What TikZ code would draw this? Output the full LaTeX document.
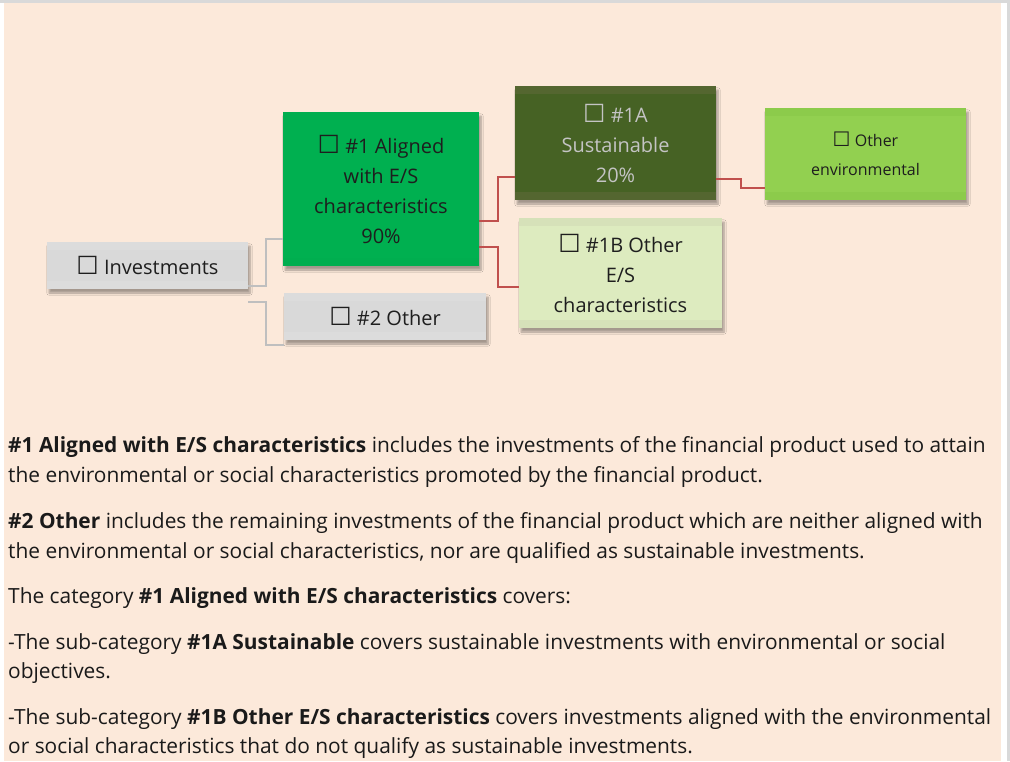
\documentclass[tikz,border=0pt]{standalone}
\usepackage{fontspec}
\setmainfont{Open Sans}
\newfontfamily\symf{DejaVu Sans}
\usetikzlibrary{shadows.blur}
\definecolor{peach}{HTML}{FCE9DA}
\definecolor{frame}{HTML}{D9D9D9}
\definecolor{greybox}{HTML}{D9D9D9}
\definecolor{greyband}{HTML}{DCDCDC}
\definecolor{green1}{HTML}{00B050}
\definecolor{green1band}{HTML}{00AE4F}
\definecolor{dark1a}{HTML}{466224}
\definecolor{dark1aband}{HTML}{546630}
\definecolor{light1b}{HTML}{DDEBBF}
\definecolor{light1bband}{HTML}{D6E1B9}
\definecolor{envgreen}{HTML}{92D050}
\definecolor{envband}{HTML}{8CCB4B}
\definecolor{greyline}{HTML}{BFBFBF}
\definecolor{redline}{HTML}{C0504D}
\definecolor{boxtxt}{HTML}{1E1E1E}
\definecolor{lighttxt}{HTML}{C4C4C4}
\definecolor{bodytxt}{HTML}{1A1A1A}
\newcommand\chkbox{{\symf\scalebox{1.25}{☐}}}
\tikzset{
  box/.style={rectangle, inner sep=0pt, align=center, text=boxtxt,
    font=\fontsize{20}{30}\selectfont,
    blur shadow={shadow xshift=2pt, shadow yshift=-4pt, shadow blur steps=6, shadow opacity=35}},
  banded/.style={path picture={
    \fill[#1] (path picture bounding box.north west) rectangle ([yshift=-8pt]path picture bounding box.north east);
    \fill[#1] (path picture bounding box.south west) rectangle ([yshift=8pt]path picture bounding box.south east);}},
  gline/.style={draw=greyline, line width=2pt},
  rline/.style={draw=redline, line width=2pt},
  bodytext/.style={anchor=base west, inner sep=0pt, text=bodytxt, font=\fontsize{20.9}{24}\selectfont},
}
\begin{document}
\begin{tikzpicture}[x=1pt, y=-1pt]
\useasboundingbox (0,0) rectangle (1010,761);
\fill[white] (0,0) rectangle (1010,761);
\fill[peach] (4,3) rectangle (1001,761);
\fill[frame] (0,0) rectangle (1008,3);
\fill[frame] (1007,0) rectangle (1010,761);

% boxes
\node[box, fill=greybox, banded=greyband, minimum width=201pt, minimum height=47pt] (inv) at (147.5,265.5) {\chkbox\ Investments};
\node[box, fill=green1, banded=green1band, minimum width=196pt, minimum height=154pt] (a1) at (381,189) {\chkbox\ \#1 Aligned\\with E/S\\characteristics\\90\%};
\node[box, fill=greybox, banded=greyband, minimum width=202pt, minimum height=47pt] (o2) at (385,316.5) {\chkbox\ \#2 Other};
\node[box, fill=dark1a, banded=dark1aband, text=lighttxt, minimum width=201pt, minimum height=114pt] (s1a) at (615.5,143) {\chkbox\ \#1A\\Sustainable\\20\%};
\node[box, fill=light1b, banded=light1bband, minimum width=203pt, minimum height=110pt] (b1b) at (620.5,273) {\chkbox\ \#1B Other\\E/S\\characteristics};
\node[box, fill=envgreen, banded=envband, minimum width=201pt, minimum height=92pt, font=\fontsize{16}{29}\selectfont] (env) at (865.5,154) {\chkbox\ Other\\environmental};

% connectors
\draw[gline] (inv.east |- 0,286) -- (266,286) -- (266,239) -- (a1.west |- 0,239);
\draw[gline] (inv.east |- 0,302) -- (266,302) -- (266,345) -- (o2.west |- 0,345);
\draw[rline] (a1.east |- 0,221) -- (498,221) -- (498,177) -- (s1a.west |- 0,177);
\draw[rline] (a1.east |- 0,247) -- (498,247) -- (498,287) -- (b1b.west |- 0,287);
\draw[rline] (s1a.east |- 0,179) -- (741,179) -- (741,188) -- (env.west |- 0,188);

% body text
\node[bodytext] (t1) at (8,452) {\textbf{\#1 Aligned with E/S characteristics} includes the investments of the financial product used to attain};
\node[bodytext] (t2) at (8,482) {the environmental or social characteristics promoted by the financial product.};
\node[bodytext] (t3) at (8,528) {\textbf{\#2 Other} includes the remaining investments of the financial product which are neither aligned with};
\node[bodytext] (t4) at (8,558) {the environmental or social characteristics, nor are qualified as sustainable investments.};
\node[bodytext] (t5) at (8,603) {The category \textbf{\#1 Aligned with E/S characteristics} covers:};
\node[bodytext] (t6) at (8,649) {-The sub-category \textbf{\#1A Sustainable} covers sustainable investments with environmental or social};
\node[bodytext] (t7) at (8,678) {objectives.};
\node[bodytext] (t8) at (8,724) {-The sub-category \textbf{\#1B Other E/S characteristics} covers investments aligned with the environmental};
\node[bodytext] (t9) at (8,753) {or social characteristics that do not qualify as sustainable investments.};
\end{tikzpicture}
\end{document}
